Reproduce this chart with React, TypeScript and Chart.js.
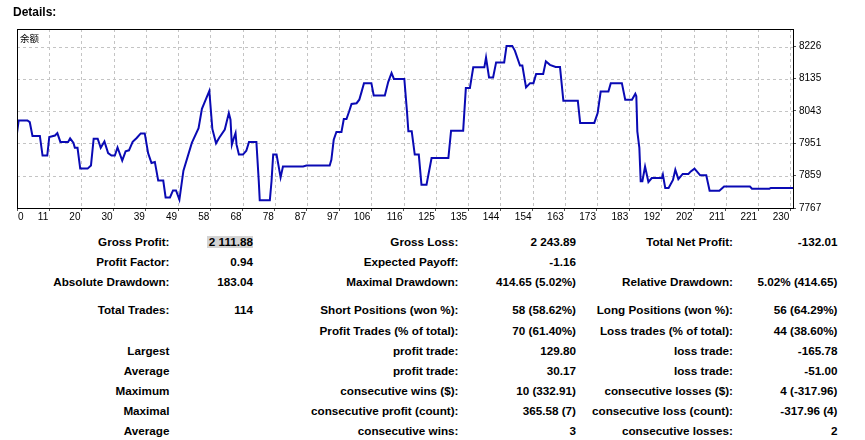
import React, { useEffect, useRef } from 'react';
import { Chart, registerables } from 'chart.js';

Chart.register(...registerables);

// Balance curve (trade index -> balance)
const BAL_X = [
  0, 0.5, 3.1, 3.8, 4.6, 6.8, 7.6, 9.0, 9.6, 11.3, 12.0, 12.9, 15.2, 15.8, 16.8, 17.2, 18.0, 18.8, 21.0, 22.0,
  22.8, 24.0, 24.9, 26.0, 27.1, 28.1, 29.1, 29.9, 31.3, 32.3, 33.3, 34.4, 35.6, 36.8, 38.0, 39.0, 40.0, 41.0, 42.0, 43.5,
  44.2, 45.5, 46.4, 47.3, 48.3, 49.5, 52.0, 54.0, 55.0, 57.2, 58.1, 59.2, 60.1, 61.8, 63.0, 63.5, 63.9, 64.5, 65.0, 65.3,
  66.0, 67.2, 68.2, 69.0, 71.2, 71.9, 72.2, 75.2, 75.7, 76.2, 77.2, 78.4, 79.1, 85.1, 86.1, 93.0, 93.5, 94.2, 95.0, 96.5,
  97.2, 98.0, 98.8, 99.5, 101.0, 101.8, 102.5, 103.2, 105.4, 106.1, 109.4, 110.4, 111.4, 112.1, 115.2, 116.0, 116.4, 117.4, 118.3, 119.5,
  120.3, 121.8, 123.3, 128.3, 129.1, 132.7, 133.5, 134.7, 135.7, 139.0, 139.5, 140.4, 141.6, 142.5, 144.9, 145.6, 147.3, 148.1, 149.6, 150.3,
  151.4, 152.6, 153.6, 154.4, 156.5, 157.3, 158.5, 160.2, 161.5, 162.5, 166.8, 167.5, 171.7, 172.7, 173.6, 175.9, 176.6, 179.9, 180.9, 182.9,
  183.9, 184.2, 184.5, 185.1, 185.5, 186.0, 186.8, 187.8, 188.8, 191.8, 192.1, 192.8, 193.8, 195.1, 195.8, 196.7, 198.0, 199.7, 200.4, 201.5,
  203.2, 205.0, 206.0, 208.9, 210.3, 218.0, 218.6, 223.8, 224.2, 230.8,
];
const BAL_Y = [
  7980, 8016, 8016, 8011, 7972, 7972, 7916, 7916, 7969, 7973, 7980, 7955, 7955, 7965, 7952, 7938, 7938, 7879, 7879, 7888,
  7964, 7964, 7938, 7956, 7923, 7916, 7916, 7939, 7902, 7928, 7931, 7955, 7966, 7979, 7979, 7923, 7895, 7898, 7845, 7845,
  7797, 7797, 7817, 7817, 7791, 7873, 7952, 7994, 8049, 8100, 7992, 7951, 7966, 7990, 8037, 8018, 7947, 7966, 7980, 7947,
  7919, 7919, 7930, 7955, 7955, 7845, 7789, 7789, 7843, 7919, 7919, 7854, 7885, 7885, 7888, 7888, 7904, 7961, 7983, 7983,
  8020, 8020, 8042, 8063, 8065, 8075, 8098, 8122, 8122, 8087, 8087, 8125, 8151, 8134, 8134, 8040, 7985, 7985, 7919, 7919,
  7833, 7833, 7909, 7909, 7987, 7987, 8108, 8108, 8167, 8167, 8195, 8138, 8138, 8181, 8181, 8228, 8228, 8214, 8172, 8172,
  8110, 8122, 8122, 8148, 8148, 8184, 8174, 8168, 8168, 8072, 8072, 8009, 8009, 8037, 8098, 8098, 8122, 8122, 8075, 8075,
  8092, 8085, 7985, 7938, 7843, 7843, 7885, 7841, 7852, 7852, 7862, 7824, 7824, 7847, 7876, 7849, 7864, 7864, 7871, 7879,
  7860, 7860, 7816, 7816, 7828, 7828, 7822, 7822, 7824, 7824,
];

const X_TICK_LABELS = ['0', '11', '20', '30', '39', '49', '58', '68', '78', '87', '97', '106', '116', '125', '135', '144', '154', '163', '173', '183', '192', '202', '211', '221', '230'];
const X_LAST_TICK = 230;
const X_MIN = 0;
const X_MAX = 230.8;
const Y_TICKS = [7767, 7859, 7951, 8043, 8135, 8226];
const Y_MIN = 7767;
const Y_MAX = 8276;
const CHART_CAPTION = '余额';
const HEADING = 'Details:';

// Statistics table: [label1, value1, label2, value2, label3, value3]
const STAT_ROWS = [
  ['Gross Profit:', '2 111.88', 'Gross Loss:', '2 243.89', 'Total Net Profit:', '-132.01'],
  ['Profit Factor:', '0.94', 'Expected Payoff:', '-1.16', '', ''],
  ['Absolute Drawdown:', '183.04', 'Maximal Drawdown:', '414.65 (5.02%)', 'Relative Drawdown:', '5.02% (414.65)'],
  ['Total Trades:', '114', 'Short Positions (won %):', '58 (58.62%)', 'Long Positions (won %):', '56 (64.29%)'],
  ['', '', 'Profit Trades (% of total):', '70 (61.40%)', 'Loss trades (% of total):', '44 (38.60%)'],
  ['Largest', '', 'profit trade:', '129.80', 'loss trade:', '-165.78'],
  ['Average', '', 'profit trade:', '30.17', 'loss trade:', '-51.00'],
  ['Maximum', '', 'consecutive wins ($):', '10 (332.91)', 'consecutive losses ($):', '4 (-317.96)'],
  ['Maximal', '', 'consecutive profit (count):', '365.58 (7)', 'consecutive loss (count):', '-317.96 (4)'],
  ['Average', '', 'consecutive wins:', '3', 'consecutive losses:', '2'],
];
const ROW_CENTERS = [241.7, 261.7, 281.7, 310, 330.7, 350.8, 370.8, 390.8, 410.8, 430.8];
const COL_RIGHTS = [169.5, 253, 458.5, 576, 733, 837.5];

const LINE_COLOR = '#0a0ab4';
const GRID_COLOR = '#c4c4c4';
const TICK_FONT = '"Liberation Sans Narrow", "Liberation Sans", Arial, sans-serif';
const TABLE_FONT = '"Liberation Sans", Arial, sans-serif';

const W = 865;
const CANVAS_H = 230;

export default function App() {
  const ref = useRef<HTMLCanvasElement | null>(null);

  useEffect(() => {
    const canvas = ref.current;
    if (!canvas) return;

    const dashedGrid = {
      id: 'dashedGrid',
      beforeDatasetsDraw(chart: any) {
        const { ctx, chartArea } = chart;
        const xs = chart.scales.x;
        const ys = chart.scales.y;
        ctx.save();
        ctx.strokeStyle = GRID_COLOR;
        ctx.lineWidth = 1;
        ctx.setLineDash([3, 3]);
        xs.ticks.forEach((t: any) => {
          const px = Math.round(xs.getPixelForValue(t.value)) + 0.5;
          ctx.beginPath();
          ctx.moveTo(px, chartArea.top);
          ctx.lineTo(px, chartArea.bottom);
          ctx.stroke();
        });
        ys.ticks.forEach((t: any) => {
          const py = Math.round(ys.getPixelForValue(t.value)) + 0.5;
          ctx.beginPath();
          ctx.moveTo(chartArea.left, py);
          ctx.lineTo(chartArea.right, py);
          ctx.stroke();
        });
        ctx.restore();
      },
    };

    const decor = {
      id: 'decor',
      afterDraw(chart: any) {
        const { ctx, chartArea } = chart;
        const xs = chart.scales.x;
        ctx.save();
        // frame
        ctx.strokeStyle = '#000';
        ctx.lineWidth = 1;
        ctx.setLineDash([]);
        ctx.strokeRect(Math.round(chartArea.left) + 0.5, Math.round(chartArea.top) + 0.5,
          Math.round(chartArea.right) - Math.round(chartArea.left), Math.round(chartArea.bottom) - Math.round(chartArea.top));
        // caption
        ctx.fillStyle = '#000';
        ctx.font = '9.5px "Noto Sans CJK SC", sans-serif';
        ctx.textAlign = 'left';
        ctx.textBaseline = 'middle';
        ctx.fillText(CHART_CAPTION, chartArea.left + 3, chartArea.top + 9);
        // x labels
        ctx.font = '10px ' + TICK_FONT;
        ctx.textBaseline = 'alphabetic';
        xs.ticks.forEach((t: any, k: number) => {
          const px = xs.getPixelForValue(t.value);
          if (k === 0) {
            ctx.textAlign = 'left';
            ctx.fillText(X_TICK_LABELS[k], px + 1, chartArea.bottom + 11.5);
          } else {
            ctx.textAlign = 'right';
            ctx.fillText(X_TICK_LABELS[k], px - 1, chartArea.bottom + 11.5);
          }
        });
        ctx.restore();
      },
    };

    const chart = new Chart(canvas, {
      type: 'line',
      data: {
        datasets: [
          {
            data: BAL_X.map((x, i) => ({ x, y: BAL_Y[i] })),
            borderColor: LINE_COLOR,
            borderWidth: 2,
            pointRadius: 0,
            tension: 0,
            fill: false,
          },
        ],
      },
      options: {
        responsive: false,
        maintainAspectRatio: false,
        animation: false,
        events: [],
        layout: { padding: { left: 17, top: 29, right: 0, bottom: 0 } },
        plugins: { legend: { display: false }, tooltip: { enabled: false } },
        scales: {
          x: {
            type: 'linear',
            min: X_MIN,
            max: X_MAX,
            afterBuildTicks: (s: any) => {
              s.ticks = X_TICK_LABELS.map((_, k) => ({ value: (k * X_LAST_TICK) / (X_TICK_LABELS.length - 1) }));
            },
            afterFit: (s: any) => {
              s.height = 22;
            },
            ticks: { display: false },
            grid: { drawOnChartArea: false, color: GRID_COLOR, tickLength: 3, tickColor: '#555' },
            border: { display: true, color: '#000' },
          },
          y: {
            type: 'linear',
            position: 'right',
            min: Y_MIN,
            max: Y_MAX,
            afterBuildTicks: (s: any) => {
              s.ticks = Y_TICKS.map((v) => ({ value: v }));
            },
            afterFit: (s: any) => {
              s.width = 72;
            },
            ticks: {
              autoSkip: false,
              padding: 3,
              color: '#000',
              font: { family: TICK_FONT, size: 10 },
              callback: (v: any) => String(v),
            },
            grid: { drawOnChartArea: false, color: GRID_COLOR, tickLength: 3, tickColor: '#555' },
            border: { display: true, color: '#000' },
          },
        },
      },
      plugins: [dashedGrid, decor],
    } as any);

    return () => chart.destroy();
  }, []);

  const cell = (text: string, right: number, y: number, key: string, highlight = false) => (
    <div
      key={key}
      style={{
        position: 'absolute',
        right: W - right,
        top: y - 7,
        height: 14,
        lineHeight: '14px',
        whiteSpace: 'nowrap',
        textAlign: 'right',
      }}
    >
      {highlight ? (
        <span style={{ background: '#d4d4d4', display: 'inline-block', lineHeight: '12px', height: 12, marginTop: 1, paddingLeft: 2 }}>{text}</span>
      ) : (
        text
      )}
    </div>
  );

  return (
    <div
      style={{
        position: 'absolute',
        left: 0,
        top: 0,
        width: W,
        height: 440,
        background: '#fff',
        overflow: 'hidden',
        fontFamily: TABLE_FONT,
        fontWeight: 'bold',
        fontSize: '11.7px',
        color: '#000',
      }}
    >
      <canvas
        ref={ref}
        width={W}
        height={CANVAS_H}
        style={{ position: 'absolute', left: 0, top: 0, width: W, height: CANVAS_H }}
      />
      <div style={{ position: 'absolute', left: 13, top: 5, height: 14, lineHeight: '14px', fontSize: '12px' }}>{HEADING}</div>
      {STAT_ROWS.map((row, r) =>
        row.map((text, c) =>
          text ? cell(text, COL_RIGHTS[c], ROW_CENTERS[r], `${r}-${c}`, r === 0 && c === 1) : null
        )
      )}
    </div>
  );
}
